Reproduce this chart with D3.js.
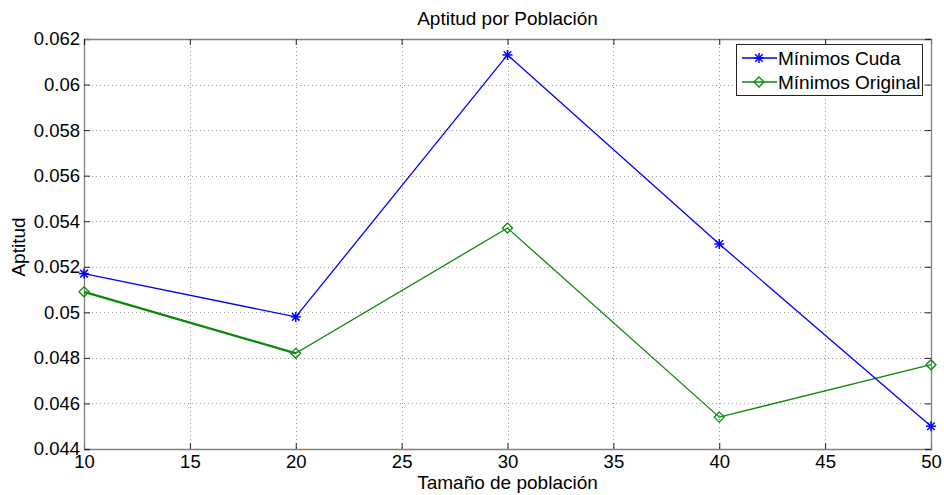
<!DOCTYPE html>
<html><head><meta charset="utf-8">
<script src="https://cdn.jsdelivr.net/npm/d3@7"></script>
<style>body{margin:0;background:#fff;}svg{display:block;font-family:"Liberation Sans",Arial,sans-serif;}</style>
</head><body><svg id="c" width="944" height="495"></svg>
<script>
const xValues = [10, 20, 30, 40, 50];
const cudaValues = [0.0517, 0.0498, 0.0613, 0.0530, 0.0450];
const originalValues = [0.0509, 0.0482, 0.0537, 0.0454, 0.0477];
const xTicks = [10, 15, 20, 25, 30, 35, 40, 45, 50];
const yTicks = [0.044, 0.046, 0.048, 0.05, 0.052, 0.054, 0.056, 0.058, 0.06, 0.062];
const seriesNames = ["Mínimos Cuda", "Mínimos Original"];

const svg = d3.select("#c");
const L = 84, R = 931, T = 39, B = 449;
const x = d3.scaleLinear().domain([10, 50]).range([L, R]);
const y = d3.scaleLinear().domain([0.044, 0.062]).range([B, T]);

svg.append("rect").attr("width", 944).attr("height", 495).attr("fill", "#fff");

// grid
const g = svg.append("g");
g.selectAll(".gx").data(xTicks.slice(1, -1)).enter().append("line")
  .attr("x1", d => Math.round(x(d)) + 0.5).attr("x2", d => Math.round(x(d)) + 0.5)
  .attr("y1", T).attr("y2", B).attr("stroke", "#999").attr("stroke-dasharray", "1,3");
g.selectAll(".gy").data(yTicks.slice(1, -1)).enter().append("line")
  .attr("y1", d => Math.round(y(d)) + 0.5).attr("y2", d => Math.round(y(d)) + 0.5)
  .attr("x1", L).attr("x2", R).attr("stroke", "#999").attr("stroke-dasharray", "1,3");

// axes
const fmt = d => String(+d.toFixed(3));
const ax = svg.append("g").attr("transform", `translate(0,${B})`)
  .call(d3.axisBottom(x).tickValues(xTicks).tickSize(-6).tickPadding(7).tickFormat(d3.format("d")));
const ay = svg.append("g").attr("transform", `translate(${L},0)`)
  .call(d3.axisLeft(y).tickValues(yTicks).tickSize(-6).tickPadding(4).tickFormat(fmt));
const axTop = svg.append("g").attr("transform", `translate(0,${T})`)
  .call(d3.axisTop(x).tickValues(xTicks).tickSize(-6).tickFormat(""));
const ayR = svg.append("g").attr("transform", `translate(${R},0)`)
  .call(d3.axisRight(y).tickValues(yTicks).tickSize(-6).tickFormat(""));
[ax, ay, axTop, ayR].forEach(a => {
  a.select(".domain").attr("stroke", "#808080").attr("stroke-width", 1.3);
  a.selectAll(".tick line").attr("stroke", "#222");
  a.selectAll("text").attr("font-size", 18.5).attr("fill", "#000").attr("font-family", "Liberation Sans, Arial, sans-serif");
});
ax.selectAll("text").attr("dy", "0.66em");

// lines
const lineGen = d3.line().x((d, i) => x(xValues[i])).y(d => y(d));
svg.append("path").datum(originalValues).attr("d", lineGen)
  .attr("fill", "none").attr("stroke", "#0a8a0a").attr("stroke-width", 1.3);
svg.append("path").datum(originalValues.slice(0, 2)).attr("d", lineGen)
  .attr("fill", "none").attr("stroke", "#0a8a0a").attr("stroke-width", 2.2);
svg.append("path").datum(cudaValues).attr("d", lineGen)
  .attr("fill", "none").attr("stroke", "#0000ff").attr("stroke-width", 1.3);

function star(sel, cx, cy, col) {
  const r = 5;
  const gg = sel.append("g").attr("stroke", col).attr("stroke-width", 1.5);
  gg.append("line").attr("x1", cx - r).attr("x2", cx + r).attr("y1", cy).attr("y2", cy);
  gg.append("line").attr("x1", cx).attr("x2", cx).attr("y1", cy - r).attr("y2", cy + r);
  gg.append("line").attr("x1", cx - r * 0.75).attr("x2", cx + r * 0.75).attr("y1", cy - r * 0.75).attr("y2", cy + r * 0.75);
  gg.append("line").attr("x1", cx - r * 0.75).attr("x2", cx + r * 0.75).attr("y1", cy + r * 0.75).attr("y2", cy - r * 0.75);
}
function diamond(sel, cx, cy, col) {
  const r = 5;
  sel.append("path").attr("d", `M${cx},${cy - r}L${cx + r},${cy}L${cx},${cy + r}L${cx - r},${cy}Z`)
    .attr("fill", "none").attr("stroke", col).attr("stroke-width", 1.3);
}
originalValues.forEach((v, i) => diamond(svg, x(xValues[i]), y(v), "#0a8a0a"));
cudaValues.forEach((v, i) => star(svg, x(xValues[i]), y(v), "#0000ff"));

// title & labels
svg.append("text").attr("x", (L + R) / 2).attr("y", 25).attr("text-anchor", "middle")
  .attr("font-size", 19).text("Aptitud por Población");
svg.append("text").attr("x", (L + R) / 2).attr("y", 489).attr("text-anchor", "middle")
  .attr("font-size", 19).text("Tamaño de población");
svg.append("text").attr("transform", `translate(25,${(T + B) / 2 + 3}) rotate(-90)`).attr("text-anchor", "middle")
  .attr("font-size", 19).text("Aptitud");

// legend
const lg = svg.append("g");
lg.append("rect").attr("x", 736.5).attr("y", 44.5).attr("width", 186).attr("height", 51)
  .attr("fill", "#fff").attr("stroke", "#222").attr("stroke-width", 1);
const cols = ["#0000ff", "#0a8a0a"];
seriesNames.forEach((n, i) => {
  const yy = 58 + i * 24;
  lg.append("line").attr("x1", 742).attr("x2", 777).attr("y1", yy).attr("y2", yy).attr("stroke", cols[i]).attr("stroke-width", 1.3);
  if (i === 0) star(lg, 759, yy, cols[i]); else diamond(lg, 759, yy, cols[i]);
  lg.append("text").attr("x", 778).attr("y", yy + 7).attr("font-size", 19).text(n);
});
</script></body></html>
